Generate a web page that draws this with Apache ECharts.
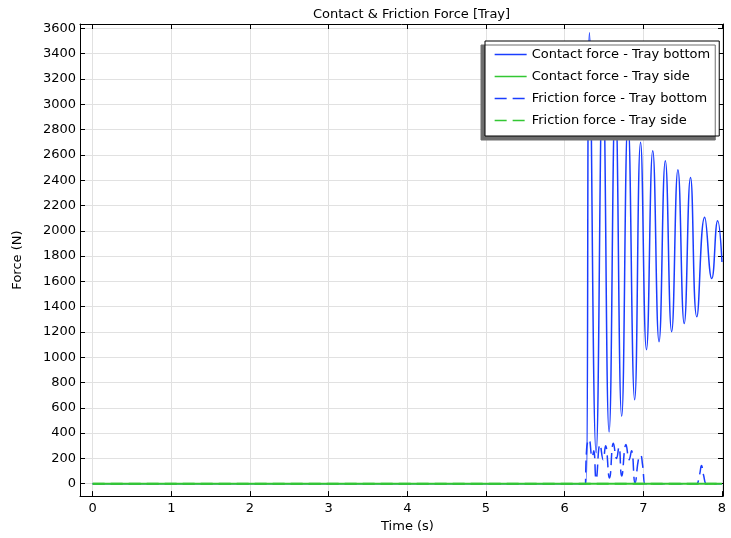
<!DOCTYPE html>
<html>
<head>
<meta charset="utf-8">
<script src="https://cdn.jsdelivr.net/npm/echarts@6/dist/echarts.min.js"></script>
<style>
  html, body { margin: 0; padding: 0; background: #fff; }
  #chart { width: 731px; height: 538px; }
</style>
</head>
<body>
<div id="chart"></div>
<script>
// values
const seriesNames = [
  "Contact force - Tray bottom",
  "Contact force - Tray side",
  "Friction force - Tray bottom",
  "Friction force - Tray side"
]

const contactBottomT = [0, 6.26, 6.275, 6.315, 6.40, 6.485, 6.565, 6.645, 6.725, 6.805, 6.89, 6.965, 7.04, 7.12, 7.20, 7.28, 7.36, 7.44, 7.52, 7.60, 7.68, 7.78, 7.87, 7.945, 8.0]
const contactBottomF = [0, 0, 0, 3565, 244, 3250, 409, 3050, 533, 2880, 664, 2700, 1060, 2632, 1123, 2553, 1202, 2482, 1267, 2422, 1320, 2107, 1622, 2080, 1753]

const frictionBottomT = [0, 6.265, 6.27, 6.28, 6.31, 6.35, 6.37, 6.40, 6.45, 6.49, 6.52, 6.57, 6.62, 6.66, 6.69, 6.725, 6.78, 6.82, 6.85, 6.895, 6.94, 6.965, 6.99, 7.02, 7.03, 7.67, 7.68, 7.715, 7.74, 7.765, 7.80, 7.81, 8.0]
const frictionBottomF = [0, 0, 0, 280, 350, 210, 260, 35, 310, 190, 300, 45, 320, 200, 290, 60, 310, 190, 260, 8, 200, 226, 150, 0, 0, 0, 0, 70, 144, 70, 0, 0, 0]

const sideT = [0, 8.0]
const contactSideF = [0, 0]
const frictionSideF = [0, 0]

const xTicks = [0, 1, 2, 3, 4, 5, 6, 7, 8]
const yTicks = [0, 200, 400, 600, 800, 1000, 1200, 1400, 1600, 1800, 2000, 2200, 2400, 2600, 2800, 3000, 3200, 3400, 3600]

const blue = "#1a3dff"
const green = "#33c733"
const font = "DejaVu Sans"
const dash = [12, 6]

function pairs(t, f) {
  return t.map((v, i) => [v, f[i]])
}

const chart = echarts.init(document.getElementById("chart"))

const baseAxis = {
  type: "value",
  axisLine: { show: true, onZero: false, lineStyle: { color: "#000", width: 1 } },
  axisTick: { show: true, inside: true, length: 5, lineStyle: { color: "#000" } },
  splitLine: { show: false }
}
const labelStyle = { fontFamily: font, fontSize: 13, color: "#000", formatter: v => String(v) }

chart.setOption({
  animation: false,
  title: {
    text: "Contact & Friction Force [Tray]",
    left: 308,
    top: 3,
    textStyle: { fontFamily: font, fontSize: 13, fontWeight: "normal", color: "#000" }
  },
  legend: {
    left: 485,
    top: 41,
    orient: "vertical",
    padding: [7, 9, 9, 9],
    itemWidth: 32,
    itemHeight: 14,
    itemGap: 9,
    backgroundColor: "#fff",
    borderColor: "#000",
    borderWidth: 1,
    shadowColor: "#6e6e6e",
    shadowBlur: 0,
    shadowOffsetX: -4,
    shadowOffsetY: 4,
    itemStyle: { opacity: 0 },
    textStyle: { fontFamily: font, fontSize: 13, color: "#000" },
    data: [
      { name: seriesNames[0], lineStyle: { color: blue, width: 1.3 } },
      { name: seriesNames[1], lineStyle: { color: green, width: 1.3 } },
      { name: seriesNames[2], lineStyle: { color: blue, width: 1.3, type: dash } },
      { name: seriesNames[3], lineStyle: { color: green, width: 1.3, type: dash } }
    ]
  },
  grid: { left: 80, right: 8, top: 24, bottom: 39 },
  xAxis: [
    {
      ...baseAxis,
      min: -0.161,
      max: 8.013,
      name: "Time (s)",
      nameLocation: "middle",
      nameGap: 21,
      nameTextStyle: { fontFamily: font, fontSize: 13, color: "#000", padding: [0, 0, 0, 12] },
      axisTick: { ...baseAxis.axisTick, customValues: xTicks },
      axisLabel: { ...labelStyle, customValues: xTicks, margin: 6 },
      splitLine: { show: true, lineStyle: { color: "#e1e1e1", width: 1 } }
    },
    {
      ...baseAxis,
      position: "top",
      min: -0.161,
      max: 8.013,
      axisTick: { ...baseAxis.axisTick, customValues: xTicks },
      axisLabel: { show: false }
    }
  ],
  yAxis: [
    {
      ...baseAxis,
      min: -98,
      max: 3635,
      name: "Force (N)",
      nameLocation: "middle",
      nameGap: 56,
      nameTextStyle: { fontFamily: font, fontSize: 13, color: "#000" },
      axisTick: { ...baseAxis.axisTick, customValues: yTicks },
      axisLabel: { ...labelStyle, customValues: yTicks, margin: 4 },
      splitLine: { show: true, lineStyle: { color: "#e1e1e1", width: 1 } }
    },
    {
      ...baseAxis,
      position: "right",
      min: -98,
      max: 3635,
      axisTick: { ...baseAxis.axisTick, customValues: yTicks },
      axisLabel: { show: false }
    }
  ],
  series: [
    {
      name: seriesNames[0],
      type: "line",
      data: pairs(contactBottomT, contactBottomF),
      smooth: 0.5,
      symbol: "none",
      itemStyle: { color: blue },
      lineStyle: { color: blue, width: 1.5 },
      z: 2
    },
    {
      name: seriesNames[1],
      type: "line",
      data: pairs(sideT, contactSideF),
      symbol: "none",
      itemStyle: { color: green },
      lineStyle: { color: green, width: 2 },
      z: 4
    },
    {
      name: seriesNames[2],
      type: "line",
      data: pairs(frictionBottomT, frictionBottomF),
      smooth: 0.5,
      symbol: "none",
      itemStyle: { color: blue },
      lineStyle: { color: blue, width: 1.5, type: dash },
      z: 2
    },
    {
      name: seriesNames[3],
      type: "line",
      data: pairs(sideT, frictionSideF),
      symbol: "none",
      itemStyle: { color: green },
      lineStyle: { color: green, width: 2, type: dash },
      z: 3
    }
  ]
})
</script>
</body>
</html>
